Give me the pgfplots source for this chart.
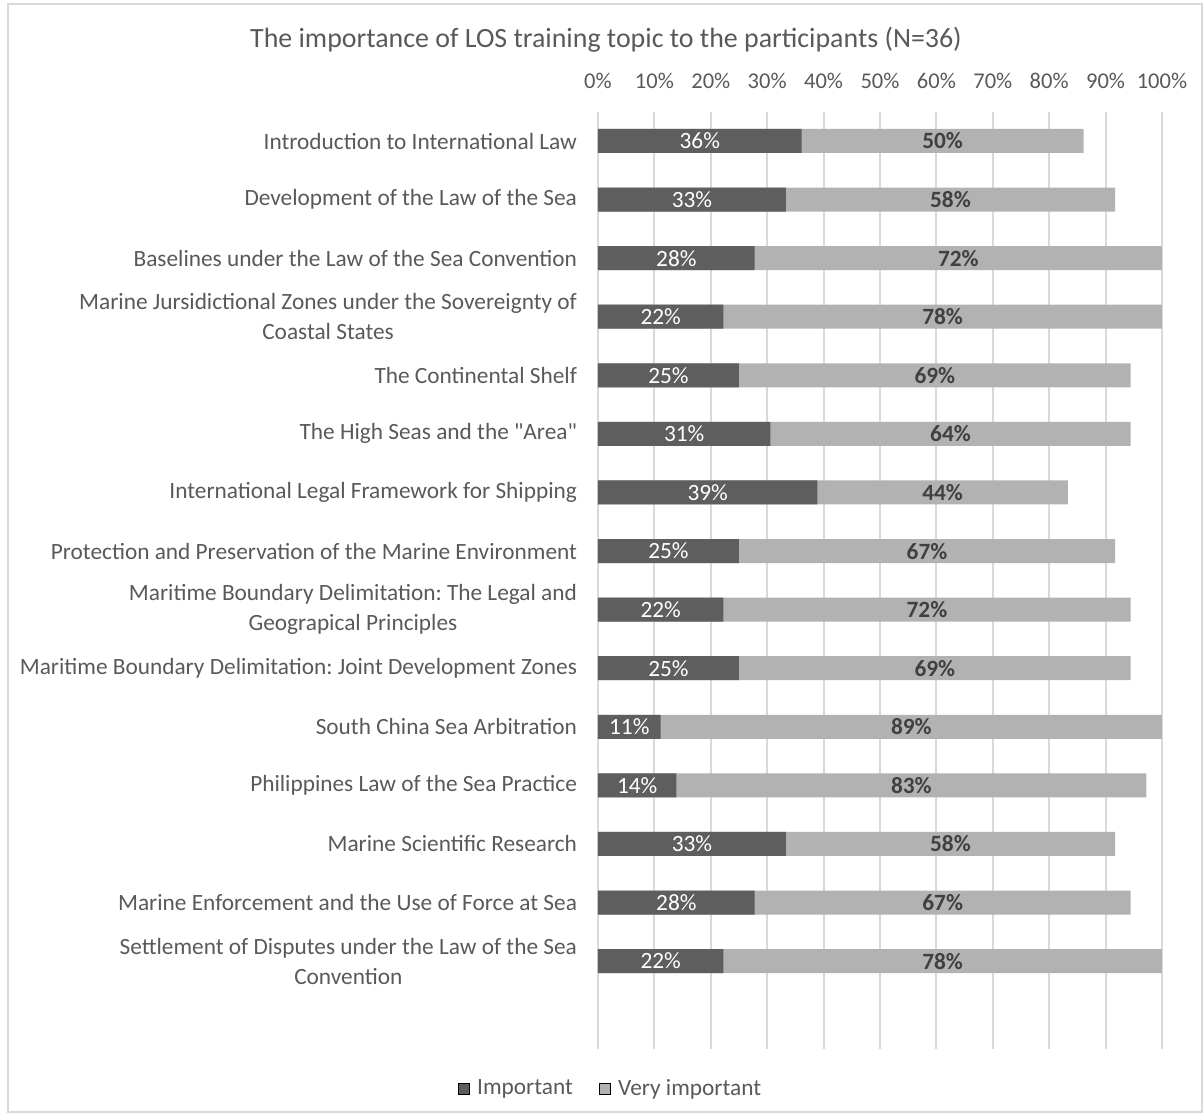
\documentclass[border=0pt]{standalone}
\usepackage{fontspec}
\setmainfont{Carlito}
\usepackage{pgfplots}
\usepackage{pgfplotstable}
\pgfplotsset{compat=1.18}
\definecolor{darkbar}{HTML}{5E5E5E}
\definecolor{lightbar}{HTML}{B2B2B2}
\definecolor{gridc}{HTML}{D9D9D9}
\definecolor{txt}{HTML}{595959}
\definecolor{lbl}{HTML}{404040}
\frenchspacing

\pgfplotstableread{
i imp very total limp lvery
0 36.11 50.00 86.11 36 50
1 33.33 58.33 91.67 33 58
2 27.78 72.22 100.00 28 72
3 22.22 77.78 100.00 22 78
4 25.00 69.44 94.44 25 69
5 30.56 63.89 94.44 31 64
6 38.89 44.44 83.33 39 44
7 25.00 66.67 91.67 25 67
8 22.22 72.22 94.44 22 72
9 25.00 69.44 94.44 25 69
10 11.11 88.89 100.00 11 89
11 13.89 83.33 97.22 14 83
12 33.33 58.33 91.67 33 58
13 27.78 66.67 94.44 28 67
14 22.22 77.78 100.00 22 78
}\data

\begin{document}
\begin{tikzpicture}
\useasboundingbox (-299bp,-33bp) rectangle (302.5bp,524.5bp);
\draw[gridc, line width=1bp] (-295bp,-31.5bp) rectangle (302bp,522.5bp);
\node[font=\fontsize{14}{16}\selectfont, text=txt] at (4bp,504.5bp) {The importance of LOS training topic to the participants (N=36)};
\begin{axis}[
  at={(0bp,0bp)}, anchor=south west,
  width=282bp, height=468.65bp, scale only axis,
  xmin=0, xmax=100, ymin=-0.5, ymax=15.5, y dir=reverse,
  xtick={0,10,...,100},
  xticklabels={0\%,10\%,20\%,30\%,40\%,50\%,60\%,70\%,80\%,90\%,100\%},
  xticklabel pos=upper,
  xticklabel style={font=\fontsize{11.3}{13}\selectfont, text=txt, yshift=8bp},
  ytick={0,...,14},
  yticklabels={
    Introduction to International Law,
    Development of the Law of the Sea,
    Baselines under the Law of the Sea Convention,
    {Marine Jursidictional Zones under the Sovereignty of\\Coastal States},
    The Continental Shelf,
    {The High Seas and the \textquotedbl Area\textquotedbl},
    International Legal Framework for Shipping,
    Protection and Preservation of the Marine Environment,
    {Maritime Boundary Delimitation: The Legal and\\Geograpical Principles},
    Maritime Boundary Delimitation: Joint Development Zones,
    South China Sea Arbitration,
    Philippines Law of the Sea Practice,
    Marine Scientific Research,
    Marine Enforcement and the Use of Force at Sea,
    {Settlement of Disputes under the Law of the Sea\\Convention}},
  yticklabel style={font=\fontsize{11.7}{15}\selectfont, text=txt, align=center, xshift=-7bp},
  tick style={draw=none},
  axis line style={draw=none},
  xmajorgrids, grid style={gridc, line width=1bp},
  legend style={at={(0.0239,-0.0425)}, anchor=center, draw=none, fill=none,
    font=\fontsize{11.7}{13}\selectfont, text=txt,
    /tikz/every even column/.append style={column sep=11bp}},
  legend columns=2,
  legend image code/.code={\draw[#1] (0bp,-2.7bp) rectangle (5.4bp,2.7bp); \path (7.5bp,0bp);},
]
\addplot[xbar, bar width=12bp, bar shift=0pt, fill=lightbar, draw=none, forget plot] table[x=total, y=i]{\data};
\addplot[xbar, bar width=12bp, bar shift=0pt, fill=darkbar, draw=none, forget plot] table[x=imp, y=i]{\data};
\addplot[only marks, mark=none, forget plot, point meta=explicit symbolic,
  nodes near coords={\pgfplotspointmeta\%},
  every node near coord/.style={anchor=center, font=\fontsize{11.7}{13}\selectfont, text=white}]
  table[x expr=\thisrow{imp}/2, y=i, meta=limp]{\data};
\addplot[only marks, mark=none, forget plot, point meta=explicit symbolic,
  nodes near coords={\pgfplotspointmeta\%},
  every node near coord/.style={anchor=center, font=\fontsize{11.7}{13}\selectfont\bfseries, text=lbl}]
  table[x expr=\thisrow{imp}+\thisrow{very}/2, y=i, meta=lvery]{\data};
\addlegendimage{fill=darkbar, draw=none}
\addlegendentry{Important}
\addlegendimage{fill=lightbar, draw=none}
\addlegendentry{Very important}
\end{axis}
\end{tikzpicture}
\end{document}
